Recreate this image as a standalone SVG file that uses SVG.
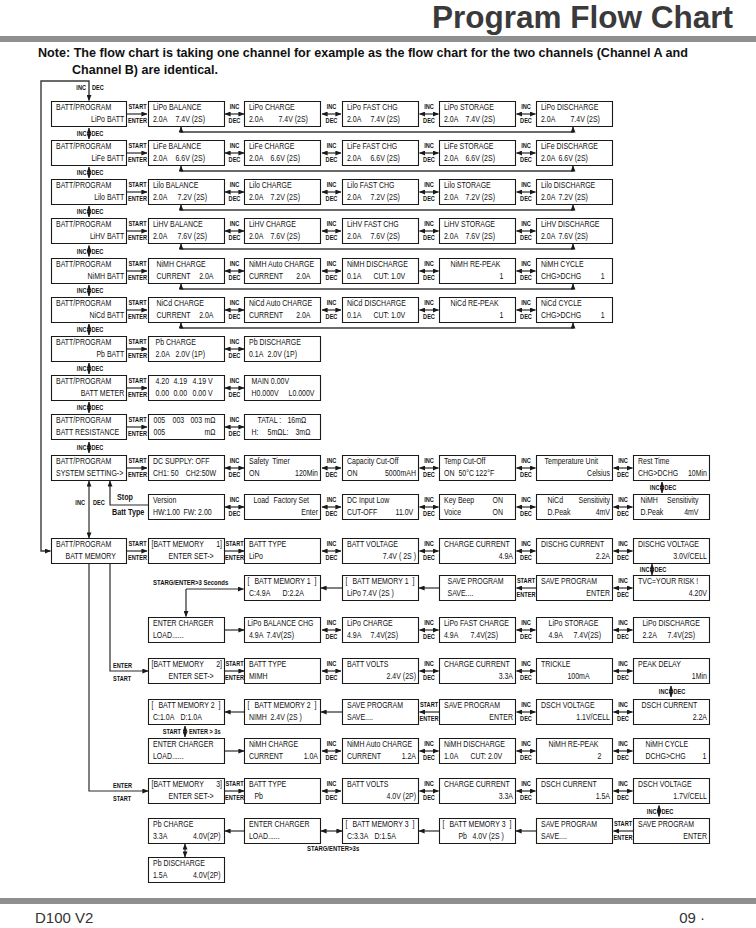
<svg xmlns="http://www.w3.org/2000/svg" width="756" height="928" viewBox="0 0 756 928">
<style>
text{font-family:"Liberation Sans",Arial,Helvetica,sans-serif;font-size:9.3px;fill:#111}
.b{fill:#fff;stroke:#1a1a1a;stroke-width:1.1;vector-effect:non-scaling-stroke}
.r{text-anchor:end}
.s,.sr,.sl{font-size:7px;font-weight:bold}
.s{text-anchor:middle}
.sr{text-anchor:end}
.st{font-size:8.5px;font-weight:bold}
.c{fill:none;stroke:#2a2a2a;stroke-width:1.2}
.l{fill:none;stroke:#3a3a3a;stroke-width:1.4}
.bar{fill:#8f8f8f}
</style>
<defs>
<marker id="ah" viewBox="0 0 6 5" refX="5.6" refY="2.5" markerWidth="6" markerHeight="5" markerUnits="userSpaceOnUse" orient="auto-start-reverse"><path d="M0,0L6,2.5L0,5z" fill="#1a1a1a"/></marker>
<g id="id"><path class="c" d="M-9.5,0H9.5" marker-start="url(#ah)" marker-end="url(#ah)"/><text class="s" transform="translate(0 -5) scale(.8 1)">INC</text><text class="s" transform="translate(0 9) scale(.8 1)">DEC</text></g>
<g id="se"><path class="c" d="M-10.5,0H9.5" marker-end="url(#ah)"/><text class="s" transform="translate(0 -5) scale(.8 1)">START</text><text class="s" transform="translate(0 9) scale(.8 1)">ENTER</text></g>
<g id="sel"><path class="c" d="M10.5,0H-9.5" marker-end="url(#ah)"/><text class="s" transform="translate(0 -5) scale(.8 1)">START</text><text class="s" transform="translate(0 9) scale(.8 1)">ENTER</text></g>
<g id="vid"><path class="c" d="M0,-5.5V5.5" marker-start="url(#ah)" marker-end="url(#ah)"/><text class="sr" transform="translate(-2.5 2.5) scale(.8 1)">INC</text><text class="sl" transform="translate(2.5 2.5) scale(.8 1)">DEC</text></g>
</defs>
<rect width="756" height="928" fill="#fff"/>

<g id="header">
<text x="733" y="28" style="font-size:31.5px;font-weight:bold;text-anchor:end;fill:#3a3a3a">Program Flow Chart</text>
<rect class="bar" x="0" y="36" width="756" height="6"/>
<text x="38" y="57" textLength="650" lengthAdjust="spacingAndGlyphs" style="font-size:12.5px;font-weight:bold">Note: The flow chart is taking one channel for example as the flow chart for the two channels (Channel A and</text>
<text x="72" y="74" textLength="146" lengthAdjust="spacingAndGlyphs" style="font-size:12.5px;font-weight:bold">Channel B) are identical.</text>
</g>

<g id="footer">
<rect class="bar" x="0" y="898" width="756" height="6"/>
<text x="35" y="923" style="font-size:15px;fill:#333">D100 V2</text>
<text x="705" y="923" style="font-size:15px;fill:#333;text-anchor:end">09 ·</text>
</g>

<g id="connectors">
<path class="l" d="M50.5,551H41V81H89V100.5" marker-start="url(#ah)" marker-end="url(#ah)"/>
<text class="sr" transform="translate(86 90) scale(.8 1)">INC</text>
<text class="sl" transform="translate(92 90) scale(.8 1)">DEC</text>
<use href="#vid" x="89" y="133.5"/>
<use href="#vid" x="89" y="172.5"/>
<use href="#vid" x="89" y="211.5"/>
<use href="#vid" x="89" y="251"/>
<use href="#vid" x="89" y="290.5"/>
<use href="#vid" x="89" y="329.5"/>
<use href="#vid" x="89" y="368.5"/>
<use href="#vid" x="89" y="407.5"/>
<use href="#vid" x="89" y="447.5"/>
<path class="l" d="M181,127V132H573V127" marker-start="url(#ah)" marker-end="url(#ah)"/>
<path class="l" d="M181,166V171H573V166" marker-start="url(#ah)" marker-end="url(#ah)"/>
<path class="l" d="M181,205V210H573V205" marker-start="url(#ah)" marker-end="url(#ah)"/>
<path class="l" d="M181,244V249H573V244" marker-start="url(#ah)" marker-end="url(#ah)"/>
<path class="l" d="M181,284V289H573V284" marker-start="url(#ah)" marker-end="url(#ah)"/>
<path class="l" d="M181,323V328H573V323" marker-start="url(#ah)" marker-end="url(#ah)"/>
<use href="#se" x="137.5" y="114"/><use href="#id" x="234.5" y="114"/><use href="#id" x="331.5" y="114"/><use href="#id" x="429" y="114"/><use href="#id" x="526" y="114"/>
<use href="#se" x="137.5" y="153"/><use href="#id" x="234.5" y="153"/><use href="#id" x="331.5" y="153"/><use href="#id" x="429" y="153"/><use href="#id" x="526" y="153"/>
<use href="#se" x="137.5" y="192"/><use href="#id" x="234.5" y="192"/><use href="#id" x="331.5" y="192"/><use href="#id" x="429" y="192"/><use href="#id" x="526" y="192"/>
<use href="#se" x="137.5" y="231"/><use href="#id" x="234.5" y="231"/><use href="#id" x="331.5" y="231"/><use href="#id" x="429" y="231"/><use href="#id" x="526" y="231"/>
<use href="#se" x="137.5" y="271"/><use href="#id" x="234.5" y="271"/><use href="#id" x="331.5" y="271"/><use href="#id" x="429" y="271"/><use href="#id" x="526" y="271"/>
<use href="#se" x="137.5" y="310"/><use href="#id" x="234.5" y="310"/><use href="#id" x="331.5" y="310"/><use href="#id" x="429" y="310"/><use href="#id" x="526" y="310"/>
<use href="#se" x="137.5" y="349"/><use href="#id" x="234.5" y="349"/>
<use href="#se" x="137.5" y="388"/><use href="#id" x="234.5" y="388"/>
<use href="#se" x="137.5" y="427"/><use href="#id" x="234.5" y="427"/>
<use href="#se" x="137.5" y="468"/><use href="#id" x="234.5" y="468"/><use href="#id" x="331.5" y="468"/><use href="#id" x="429" y="468"/><use href="#id" x="526" y="468"/><use href="#id" x="623" y="468"/>
<use href="#vid" x="662" y="487.5"/>
<use href="#id" x="234.5" y="507"/><use href="#id" x="331.5" y="507"/><use href="#id" x="429" y="507"/><use href="#id" x="526" y="507"/><use href="#id" x="623" y="507"/>
<path class="c" d="M89,481V538" marker-start="url(#ah)" marker-end="url(#ah)"/>
<text class="sr" transform="translate(85 505) scale(.8 1)">INC</text>
<text class="sl" transform="translate(93 505) scale(.8 1)">DEC</text>
<path class="c" d="M148,505H110V481" marker-end="url(#ah)"/>
<text class="st" transform="translate(117 500) scale(.85 1)">Stop</text>
<text class="st" transform="translate(112 515) scale(.85 1)">Batt Type</text>
<use href="#se" x="137.5" y="551"/><use href="#se" x="234.5" y="551"/><use href="#id" x="331.5" y="551"/><use href="#id" x="429" y="551"/><use href="#id" x="526" y="551"/><use href="#id" x="623" y="551"/>
<use href="#vid" x="652" y="569.5"/>
<path class="c" d="M110,564V671H148" marker-end="url(#ah)"/>
<path class="c" d="M89,564V791H148" marker-end="url(#ah)"/>
<text class="sl" transform="translate(113 668) scale(.8 1)">ENTER</text>
<text class="sl" transform="translate(113 681) scale(.8 1)">START</text>
<text class="sl" transform="translate(113 788) scale(.8 1)">ENTER</text>
<text class="sl" transform="translate(113 801) scale(.8 1)">START</text>
<text class="sl" transform="translate(153 585) scale(.85 1)">STARG/ENTER&gt;3 Seconds</text>
<path class="c" d="M186,589H243.5" marker-end="url(#ah)"/>
<path class="c" d="M186,589V616.5" marker-end="url(#ah)"/>
<path class="c" d="M342,588H321" marker-end="url(#ah)"/>
<path class="c" d="M439,588H419" marker-end="url(#ah)"/>
<use href="#sel" x="526" y="588"/><use href="#id" x="623" y="588"/>
<path class="c" d="M225,630H244" marker-end="url(#ah)"/>
<use href="#id" x="331.5" y="630"/><use href="#id" x="429" y="630"/><use href="#id" x="526" y="630"/><use href="#id" x="623" y="630"/>
<use href="#se" x="234.5" y="671"/><use href="#id" x="331.5" y="671"/><use href="#id" x="429" y="671"/><use href="#id" x="526" y="671"/><use href="#id" x="623" y="671"/>
<use href="#vid" x="671" y="691.5"/>
<path class="c" d="M244,712H225" marker-end="url(#ah)"/>
<path class="c" d="M342,712H321" marker-end="url(#ah)"/>
<use href="#sel" x="429" y="712"/><use href="#id" x="526" y="712"/><use href="#id" x="623" y="712"/>
<path class="c" d="M185,726V737" marker-start="url(#ah)" marker-end="url(#ah)"/>
<text class="sr" transform="translate(181 734) scale(.8 1)">START</text>
<text class="sl" transform="translate(189 734) scale(.8 1)">ENTER &gt; 3s</text>
<path class="c" d="M225,751H244" marker-end="url(#ah)"/>
<use href="#id" x="331.5" y="751"/><use href="#id" x="429" y="751"/><use href="#id" x="526" y="751"/><use href="#id" x="623" y="751"/>
<use href="#se" x="234.5" y="791"/><use href="#id" x="331.5" y="791"/><use href="#id" x="429" y="791"/><use href="#id" x="526" y="791"/><use href="#id" x="623" y="791"/>
<use href="#vid" x="659" y="811"/>
<path class="c" d="M244,831H225" marker-end="url(#ah)"/>
<path class="c" d="M321,831H342" marker-start="url(#ah)" marker-end="url(#ah)"/>
<path class="c" d="M439,831H419" marker-end="url(#ah)"/>
<path class="c" d="M536,831H516" marker-end="url(#ah)"/>
<use href="#sel" x="623" y="831"/>
<text class="sl" transform="translate(307 851) scale(.85 1)">STARG/ENTER&gt;3s</text>
<path class="c" d="M185,844V857" marker-start="url(#ah)" marker-end="url(#ah)"/>
</g>

<g id="nodes">
<g id="r1c0" transform="translate(51.5 101.5) scale(.75 1)"><rect class="b" width="100" height="25"/><text x="6" y="9">BATT/PROGRAM</text><text class="r" x="97" y="20.5">LiPo BATT</text></g>
<g id="r1c1" transform="translate(148.5 101.5) scale(.75 1)"><rect class="b" width="101.33" height="25"/><text x="6" y="9">LiPo BALANCE</text><text x="6" y="20.5">2.0A</text><text x="36" y="20.5">7.4V (2S)</text></g>
<g id="r1c2" transform="translate(244.5 101.5) scale(.75 1)"><rect class="b" width="101.33" height="25"/><text x="6" y="9">LiPo CHARGE</text><text x="6" y="20.5">2.0A</text><text x="45.3" y="20.5">7.4V (2S)</text></g>
<g id="r1c3" transform="translate(342.5 101.5) scale(.75 1)"><rect class="b" width="101.33" height="25"/><text x="6" y="9">LiPo FAST CHG</text><text x="6" y="20.5">2.0A</text><text x="37.3" y="20.5">7.4V (2S)</text></g>
<g id="r1c4" transform="translate(439.5 101.5) scale(.75 1)"><rect class="b" width="101.33" height="25"/><text x="6" y="9">LiPo STORAGE</text><text x="6" y="20.5">2.0A</text><text x="34.7" y="20.5">7.4V (2S)</text></g>
<g id="r1c5" transform="translate(536.5 101.5) scale(.75 1)"><rect class="b" width="101.33" height="25"/><text x="6" y="9">LiPo DISCHARGE</text><text x="6" y="20.5">2.0A</text><text x="45.3" y="20.5">7.4V (2S)</text></g>
<g id="r2c0" transform="translate(51.5 140.5) scale(.75 1)"><rect class="b" width="100" height="25"/><text x="6" y="9">BATT/PROGRAM</text><text class="r" x="97" y="20.5">LiFe BATT</text></g>
<g id="r2c1" transform="translate(148.5 140.5) scale(.75 1)"><rect class="b" width="101.33" height="25"/><text x="6" y="9">LiFe BALANCE</text><text x="6" y="20.5">2.0A</text><text x="36" y="20.5">6.6V (2S)</text></g>
<g id="r2c2" transform="translate(244.5 140.5) scale(.75 1)"><rect class="b" width="101.33" height="25"/><text x="6" y="9">LiFe CHARGE</text><text x="6" y="20.5">2.0A</text><text x="34.7" y="20.5">6.6V (2S)</text></g>
<g id="r2c3" transform="translate(342.5 140.5) scale(.75 1)"><rect class="b" width="101.33" height="25"/><text x="6" y="9">LiFe FAST CHG</text><text x="6" y="20.5">2.0A</text><text x="37.3" y="20.5">6.6V (2S)</text></g>
<g id="r2c4" transform="translate(439.5 140.5) scale(.75 1)"><rect class="b" width="101.33" height="25"/><text x="6" y="9">LiFe STORAGE</text><text x="6" y="20.5">2.0A</text><text x="34.7" y="20.5">6.6V (2S)</text></g>
<g id="r2c5" transform="translate(536.5 140.5) scale(.75 1)"><rect class="b" width="101.33" height="25"/><text x="6" y="9">LiFe DISCHARGE</text><text x="6" y="20.5">2.0A</text><text x="29.3" y="20.5">6.6V (2S)</text></g>
<g id="r3c0" transform="translate(51.5 179.5) scale(.75 1)"><rect class="b" width="100" height="25"/><text x="6" y="9">BATT/PROGRAM</text><text class="r" x="97" y="20.5">Lilo BATT</text></g>
<g id="r3c1" transform="translate(148.5 179.5) scale(.75 1)"><rect class="b" width="101.33" height="25"/><text x="6" y="9">Lilo BALANCE</text><text x="6" y="20.5">2.0A</text><text x="38.7" y="20.5">7.2V (2S)</text></g>
<g id="r3c2" transform="translate(244.5 179.5) scale(.75 1)"><rect class="b" width="101.33" height="25"/><text x="6" y="9">Lilo CHARGE</text><text x="6" y="20.5">2.0A</text><text x="34.7" y="20.5">7.2V (2S)</text></g>
<g id="r3c3" transform="translate(342.5 179.5) scale(.75 1)"><rect class="b" width="101.33" height="25"/><text x="6" y="9">Lilo FAST CHG</text><text x="6" y="20.5">2.0A</text><text x="37.3" y="20.5">7.2V (2S)</text></g>
<g id="r3c4" transform="translate(439.5 179.5) scale(.75 1)"><rect class="b" width="101.33" height="25"/><text x="6" y="9">Lilo STORAGE</text><text x="6" y="20.5">2.0A</text><text x="34.7" y="20.5">7.2V (2S)</text></g>
<g id="r3c5" transform="translate(536.5 179.5) scale(.75 1)"><rect class="b" width="101.33" height="25"/><text x="6" y="9">Lilo DISCHARGE</text><text x="6" y="20.5">2.0A</text><text x="29.3" y="20.5">7.2V (2S)</text></g>
<g id="r4c0" transform="translate(51.5 218.5) scale(.75 1)"><rect class="b" width="100" height="25"/><text x="6" y="9">BATT/PROGRAM</text><text class="r" x="97" y="20.5">LiHV BATT</text></g>
<g id="r4c1" transform="translate(148.5 218.5) scale(.75 1)"><rect class="b" width="101.33" height="25"/><text x="6" y="9">LiHV BALANCE</text><text x="6" y="20.5">2.0A</text><text x="38.7" y="20.5">7.6V (2S)</text></g>
<g id="r4c2" transform="translate(244.5 218.5) scale(.75 1)"><rect class="b" width="101.33" height="25"/><text x="6" y="9">LiHV CHARGE</text><text x="6" y="20.5">2.0A</text><text x="34.7" y="20.5">7.6V (2S)</text></g>
<g id="r4c3" transform="translate(342.5 218.5) scale(.75 1)"><rect class="b" width="101.33" height="25"/><text x="6" y="9">LiHV FAST CHG</text><text x="6" y="20.5">2.0A</text><text x="37.3" y="20.5">7.6V (2S)</text></g>
<g id="r4c4" transform="translate(439.5 218.5) scale(.75 1)"><rect class="b" width="101.33" height="25"/><text x="6" y="9">LiHV STORAGE</text><text x="6" y="20.5">2.0A</text><text x="34.7" y="20.5">7.6V (2S)</text></g>
<g id="r4c5" transform="translate(536.5 218.5) scale(.75 1)"><rect class="b" width="101.33" height="25"/><text x="6" y="9">LiHV DISCHARGE</text><text x="6" y="20.5">2.0A</text><text x="29.3" y="20.5">7.6V (2S)</text></g>
<g id="r5c0" transform="translate(51.5 258.5) scale(.75 1)"><rect class="b" width="100" height="25"/><text x="6" y="9">BATT/PROGRAM</text><text class="r" x="97" y="20.5">NiMH BATT</text></g>
<g id="r5c1" transform="translate(148.5 258.5) scale(.75 1)"><rect class="b" width="101.33" height="25"/><text x="10.7" y="9">NiMH CHARGE</text><text x="10.7" y="20.5">CURRENT</text><text class="r" x="86.7" y="20.5">2.0A</text></g>
<g id="r5c2" transform="translate(244.5 258.5) scale(.75 1)"><rect class="b" width="101.33" height="25"/><text x="6" y="9">NiMH Auto CHARGE</text><text x="6" y="20.5">CURRENT</text><text class="r" x="88" y="20.5">2.0A</text></g>
<g id="r5c3" transform="translate(342.5 258.5) scale(.75 1)"><rect class="b" width="101.33" height="25"/><text x="6" y="9">NiMH DISCHARGE</text><text x="6" y="20.5">0.1A</text><text x="41.3" y="20.5">CUT: 1.0V</text></g>
<g id="r5c4" transform="translate(439.5 258.5) scale(.75 1)"><rect class="b" width="101.33" height="25"/><text x="14.7" y="9">NiMH RE-PEAK</text><text class="r" x="85.3" y="20.5">1</text></g>
<g id="r5c5" transform="translate(536.5 258.5) scale(.75 1)"><rect class="b" width="101.33" height="25"/><text x="6" y="9">NiMH CYCLE</text><text x="6" y="20.5">CHG&gt;DCHG</text><text class="r" x="90.7" y="20.5">1</text></g>
<g id="r6c0" transform="translate(51.5 297.5) scale(.75 1)"><rect class="b" width="100" height="25"/><text x="6" y="9">BATT/PROGRAM</text><text class="r" x="97" y="20.5">NiCd BATT</text></g>
<g id="r6c1" transform="translate(148.5 297.5) scale(.75 1)"><rect class="b" width="101.33" height="25"/><text x="10.7" y="9">NiCd CHARGE</text><text x="10.7" y="20.5">CURRENT</text><text class="r" x="86.7" y="20.5">2.0A</text></g>
<g id="r6c2" transform="translate(244.5 297.5) scale(.75 1)"><rect class="b" width="101.33" height="25"/><text x="6" y="9">NiCd Auto CHARGE</text><text x="6" y="20.5">CURRENT</text><text class="r" x="88" y="20.5">2.0A</text></g>
<g id="r6c3" transform="translate(342.5 297.5) scale(.75 1)"><rect class="b" width="101.33" height="25"/><text x="6" y="9">NiCd DISCHARGE</text><text x="6" y="20.5">0.1A</text><text x="41.3" y="20.5">CUT: 1.0V</text></g>
<g id="r6c4" transform="translate(439.5 297.5) scale(.75 1)"><rect class="b" width="101.33" height="25"/><text x="14.7" y="9">NiCd RE-PEAK</text><text class="r" x="85.3" y="20.5">1</text></g>
<g id="r6c5" transform="translate(536.5 297.5) scale(.75 1)"><rect class="b" width="101.33" height="25"/><text x="6" y="9">NiCd CYCLE</text><text x="6" y="20.5">CHG&gt;DCHG</text><text class="r" x="90.7" y="20.5">1</text></g>
<g id="r7c0" transform="translate(51.5 336.5) scale(.75 1)"><rect class="b" width="100" height="25"/><text x="6" y="9">BATT/PROGRAM</text><text class="r" x="97" y="20.5">Pb BATT</text></g>
<g id="r7c1" transform="translate(148.5 336.5) scale(.75 1)"><rect class="b" width="101.33" height="25"/><text x="9.3" y="9">Pb CHARGE</text><text x="9.3" y="20.5">2.0A</text><text x="36" y="20.5">2.0V (1P)</text></g>
<g id="r7c2" transform="translate(244.5 336.5) scale(.75 1)"><rect class="b" width="101.33" height="25"/><text x="6" y="9">Pb DISCHARGE</text><text x="6" y="20.5">0.1A</text><text x="30.7" y="20.5">2.0V (1P)</text></g>
<g id="r8c0" transform="translate(51.5 375.5) scale(.75 1)"><rect class="b" width="100" height="25"/><text x="6" y="9">BATT/PROGRAM</text><text class="r" x="97" y="20.5">BATT METER</text></g>
<g id="r8c1" transform="translate(148.5 375.5) scale(.75 1)"><rect class="b" width="101.33" height="25"/><text x="9.3" y="9">4.20</text><text x="33.3" y="9">4.19</text><text x="58.7" y="9">4.19 V</text><text x="9.3" y="20.5">0.00</text><text x="33.3" y="20.5">0.00</text><text x="58.7" y="20.5">0.00 V</text></g>
<g id="r8c2" transform="translate(244.5 375.5) scale(.75 1)"><rect class="b" width="101.33" height="25"/><text x="9.3" y="9">MAIN 0.00V</text><text x="9.3" y="20.5">H0.000V</text><text x="58.7" y="20.5">L0.000V</text></g>
<g id="r9c0" transform="translate(51.5 414.5) scale(.75 1)"><rect class="b" width="100" height="25"/><text x="6" y="9">BATT/PROGRAM</text><text x="6" y="20.5">BATT RESISTANCE</text></g>
<g id="r9c1" transform="translate(148.5 414.5) scale(.75 1)"><rect class="b" width="101.33" height="25"/><text x="6.7" y="9">005</text><text x="32" y="9">003</text><text x="56" y="9">003</text><text class="r" x="89.3" y="9">mΩ</text><text x="6.7" y="20.5">005</text><text class="r" x="89.3" y="20.5">mΩ</text></g>
<g id="r9c2" transform="translate(244.5 414.5) scale(.75 1)"><rect class="b" width="101.33" height="25"/><text x="17.3" y="9">TATAL :</text><text x="57.3" y="9">16mΩ</text><text x="9.3" y="20.5">H:</text><text x="30.7" y="20.5">5mΩ</text><text x="50.7" y="20.5">L:</text><text x="68" y="20.5">3mΩ</text></g>
<g id="r10c0" transform="translate(51.5 455.5) scale(.75 1)"><rect class="b" width="100" height="25"/><text x="6" y="9">BATT/PROGRAM</text><text x="6" y="20.5">SYSTEM SETTING-&gt;</text></g>
<g id="r10c1" transform="translate(148.5 455.5) scale(.75 1)"><rect class="b" width="101.33" height="25"/><text x="6" y="9">DC SUPPLY: OFF</text><text x="6" y="20.5">CH1: 50</text><text class="r" x="90" y="20.5">CH2:50W</text></g>
<g id="r10c2" transform="translate(244.5 455.5) scale(.75 1)"><rect class="b" width="101.33" height="25"/><text x="6" y="9">Safety</text><text x="37" y="9">Timer</text><text x="6" y="20.5">ON</text><text class="r" x="98" y="20.5">120Min</text></g>
<g id="r10c3" transform="translate(342.5 455.5) scale(.75 1)"><rect class="b" width="101.33" height="25"/><text x="6" y="9">Capacity Cut-Off</text><text x="6" y="20.5">ON</text><text class="r" x="98" y="20.5">5000mAH</text></g>
<g id="r10c4" transform="translate(439.5 455.5) scale(.75 1)"><rect class="b" width="101.33" height="25"/><text x="6" y="9">Temp Cut-Off</text><text x="6" y="20.5">ON</text><text x="25.3" y="20.5">50°C</text><text x="48" y="20.5">122°F</text></g>
<g id="r10c5" transform="translate(536.5 455.5) scale(.75 1)"><rect class="b" width="101.33" height="25"/><text x="10.7" y="9">Temperature Unit</text><text class="r" x="98" y="20.5">Celsius</text></g>
<g id="r10c6" transform="translate(633.5 455.5) scale(.75 1)"><rect class="b" width="101.33" height="25"/><text x="6" y="9">Rest Time</text><text x="6" y="20.5">CHG&gt;DCHG</text><text class="r" x="98" y="20.5">10Min</text></g>
<g id="r11c1" transform="translate(148.5 494.5) scale(.75 1)"><rect class="b" width="101.33" height="25"/><text x="6" y="9">Version</text><text x="6" y="20.5">HW:1.00</text><text x="46.7" y="20.5">FW: 2.00</text></g>
<g id="r11c2" transform="translate(244.5 494.5) scale(.75 1)"><rect class="b" width="101.33" height="25"/><text x="12" y="9">Load</text><text x="38.7" y="9">Factory</text><text x="72" y="9">Set</text><text class="r" x="98" y="20.5">Enter</text></g>
<g id="r11c3" transform="translate(342.5 494.5) scale(.75 1)"><rect class="b" width="101.33" height="25"/><text x="6" y="9">DC Input Low</text><text x="6" y="20.5">CUT-OFF</text><text x="70.7" y="20.5">11.0V</text></g>
<g id="r11c4" transform="translate(439.5 494.5) scale(.75 1)"><rect class="b" width="101.33" height="25"/><text x="6" y="9">Key Beep</text><text x="70.7" y="9">ON</text><text x="6" y="20.5">Voice</text><text x="70.7" y="20.5">ON</text></g>
<g id="r11c5" transform="translate(536.5 494.5) scale(.75 1)"><rect class="b" width="101.33" height="25"/><text x="14.7" y="9">NiCd</text><text class="r" x="98" y="9">Sensitivity</text><text x="14.7" y="20.5">D.Peak</text><text class="r" x="98" y="20.5">4mV</text></g>
<g id="r11c6" transform="translate(633.5 494.5) scale(.75 1)"><rect class="b" width="101.33" height="25"/><text x="9.3" y="9">NiMH</text><text class="r" x="86.7" y="9">Sensitivity</text><text x="9.3" y="20.5">D.Peak</text><text class="r" x="86.7" y="20.5">4mV</text></g>
<g id="r12c0" transform="translate(51.5 538.5) scale(.75 1)"><rect class="b" width="100" height="25"/><text x="6" y="9">BATT/PROGRAM</text><text x="18.7" y="20.5">BATT MEMORY</text></g>
<g id="r12c1" transform="translate(148.5 538.5) scale(.75 1)"><rect class="b" width="101.33" height="25"/><text x="4" y="9">[BATT MEMORY</text><text class="r" x="98" y="9">1]</text><text x="26.7" y="20.5">ENTER SET-&gt;</text></g>
<g id="r12c2" transform="translate(244.5 538.5) scale(.75 1)"><rect class="b" width="101.33" height="25"/><text x="6" y="9">BATT TYPE</text><text x="6" y="20.5">LiPo</text></g>
<g id="r12c3" transform="translate(342.5 538.5) scale(.75 1)"><rect class="b" width="101.33" height="25"/><text x="6" y="9">BATT VOLTAGE</text><text class="r" x="98" y="20.5">7.4V ( 2S )</text></g>
<g id="r12c4" transform="translate(439.5 538.5) scale(.75 1)"><rect class="b" width="101.33" height="25"/><text x="6" y="9">CHARGE CURRENT</text><text class="r" x="98" y="20.5">4.9A</text></g>
<g id="r12c5" transform="translate(536.5 538.5) scale(.75 1)"><rect class="b" width="101.33" height="25"/><text x="6" y="9">DISCHG CURRENT</text><text class="r" x="98" y="20.5">2.2A</text></g>
<g id="r12c6" transform="translate(633.5 538.5) scale(.75 1)"><rect class="b" width="101.33" height="25"/><text x="6" y="9">DISCHG VOLTAGE</text><text class="r" x="98" y="20.5">3.0V/CELL</text></g>
<g id="m1c2" transform="translate(244.5 575.5) scale(.75 1)"><rect class="b" width="101.33" height="25"/><text x="4" y="9">[</text><text x="13.3" y="9">BATT MEMORY 1</text><text class="r" x="96" y="9">]</text><text x="6" y="20.5">C:4.9A</text><text x="50.7" y="20.5">D:2.2A</text></g>
<g id="m1c3" transform="translate(342.5 575.5) scale(.75 1)"><rect class="b" width="101.33" height="25"/><text x="4" y="9">[</text><text x="13.3" y="9">BATT MEMORY 1</text><text class="r" x="96" y="9">]</text><text x="6" y="20.5">LiPo</text><text x="26.7" y="20.5">7.4V (2S )</text></g>
<g id="m1c4" transform="translate(439.5 575.5) scale(.75 1)"><rect class="b" width="101.33" height="25"/><text x="10.7" y="9">SAVE PROGRAM</text><text x="10.7" y="20.5">SAVE....</text></g>
<g id="m1c5" transform="translate(536.5 575.5) scale(.75 1)"><rect class="b" width="101.33" height="25"/><text x="6" y="9">SAVE PROGRAM</text><text class="r" x="98" y="20.5">ENTER</text></g>
<g id="m1c6" transform="translate(633.5 575.5) scale(.75 1)"><rect class="b" width="101.33" height="25"/><text x="6" y="9">TVC=YOUR RISK !</text><text class="r" x="98" y="20.5">4.20V</text></g>
<g id="m2c1" transform="translate(148.5 617.5) scale(.75 1)"><rect class="b" width="101.33" height="25"/><text x="6" y="9">ENTER CHARGER</text><text x="6" y="20.5">LOAD......</text></g>
<g id="m2c2" transform="translate(244.5 617.5) scale(.75 1)"><rect class="b" width="101.33" height="25"/><text x="4" y="9">LiPo BALANCE CHG</text><text x="6" y="20.5">4.9A</text><text x="29.3" y="20.5">7.4V(2S)</text></g>
<g id="m2c3" transform="translate(342.5 617.5) scale(.75 1)"><rect class="b" width="101.33" height="25"/><text x="6" y="9">LiPo CHARGE</text><text x="6" y="20.5">4.9A</text><text x="37.3" y="20.5">7.4V(2S)</text></g>
<g id="m2c4" transform="translate(439.5 617.5) scale(.75 1)"><rect class="b" width="101.33" height="25"/><text x="6" y="9">LiPo FAST CHARGE</text><text x="6" y="20.5">4.9A</text><text x="41.3" y="20.5">7.4V(2S)</text></g>
<g id="m2c5" transform="translate(536.5 617.5) scale(.75 1)"><rect class="b" width="101.33" height="25"/><text x="16" y="9">LiPo STORAGE</text><text x="16" y="20.5">4.9A</text><text x="49.3" y="20.5">7.4V(2S)</text></g>
<g id="m2c6" transform="translate(633.5 617.5) scale(.75 1)"><rect class="b" width="101.33" height="25"/><text x="12" y="9">LiPo DISCHARGE</text><text x="12" y="20.5">2.2A</text><text x="45.3" y="20.5">7.4V(2S)</text></g>
<g id="m3c1" transform="translate(148.5 658.5) scale(.75 1)"><rect class="b" width="101.33" height="25"/><text x="4" y="9">[BATT MEMORY</text><text class="r" x="98" y="9">2]</text><text x="26.7" y="20.5">ENTER SET-&gt;</text></g>
<g id="m3c2" transform="translate(244.5 658.5) scale(.75 1)"><rect class="b" width="101.33" height="25"/><text x="6" y="9">BATT TYPE</text><text x="6" y="20.5">MIMH</text></g>
<g id="m3c3" transform="translate(342.5 658.5) scale(.75 1)"><rect class="b" width="101.33" height="25"/><text x="6" y="9">BATT VOLTS</text><text class="r" x="98" y="20.5">2.4V (2S)</text></g>
<g id="m3c4" transform="translate(439.5 658.5) scale(.75 1)"><rect class="b" width="101.33" height="25"/><text x="6" y="9">CHARGE CURRENT</text><text class="r" x="98" y="20.5">3.3A</text></g>
<g id="m3c5" transform="translate(536.5 658.5) scale(.75 1)"><rect class="b" width="101.33" height="25"/><text x="6" y="9">TRICKLE</text><text x="41.3" y="20.5">100mA</text></g>
<g id="m3c6" transform="translate(633.5 658.5) scale(.75 1)"><rect class="b" width="101.33" height="25"/><text x="6" y="9">PEAK DELAY</text><text class="r" x="98" y="20.5">1Min</text></g>
<g id="m4c1" transform="translate(148.5 699.5) scale(.75 1)"><rect class="b" width="101.33" height="25"/><text x="4" y="9">[</text><text x="13.3" y="9">BATT MEMORY 2</text><text class="r" x="96" y="9">]</text><text x="6" y="20.5">C:1.0A</text><text x="42.7" y="20.5">D:1.0A</text></g>
<g id="m4c2" transform="translate(244.5 699.5) scale(.75 1)"><rect class="b" width="101.33" height="25"/><text x="4" y="9">[</text><text x="13.3" y="9">BATT MEMORY 2</text><text class="r" x="96" y="9">]</text><text x="6" y="20.5">NIMH</text><text x="34.7" y="20.5">2.4V (2S )</text></g>
<g id="m4c3" transform="translate(342.5 699.5) scale(.75 1)"><rect class="b" width="101.33" height="25"/><text x="6" y="9">SAVE PROGRAM</text><text x="6" y="20.5">SAVE....</text></g>
<g id="m4c4" transform="translate(439.5 699.5) scale(.75 1)"><rect class="b" width="101.33" height="25"/><text x="6" y="9">SAVE PROGRAM</text><text class="r" x="98" y="20.5">ENTER</text></g>
<g id="m4c5" transform="translate(536.5 699.5) scale(.75 1)"><rect class="b" width="101.33" height="25"/><text x="6" y="9">DSCH VOLTAGE</text><text class="r" x="98" y="20.5">1.1V/CELL</text></g>
<g id="m4c6" transform="translate(633.5 699.5) scale(.75 1)"><rect class="b" width="101.33" height="25"/><text x="10.7" y="9">DSCH CURRENT</text><text class="r" x="98" y="20.5">2.2A</text></g>
<g id="m5c1" transform="translate(148.5 738.5) scale(.75 1)"><rect class="b" width="101.33" height="25"/><text x="6" y="9">ENTER CHARGER</text><text x="6" y="20.5">LOAD......</text></g>
<g id="m5c2" transform="translate(244.5 738.5) scale(.75 1)"><rect class="b" width="101.33" height="25"/><text x="6" y="9">NiMH CHARGE</text><text x="6" y="20.5">CURRENT</text><text class="r" x="98" y="20.5">1.0A</text></g>
<g id="m5c3" transform="translate(342.5 738.5) scale(.75 1)"><rect class="b" width="101.33" height="25"/><text x="6" y="9">NiMH Auto CHARGE</text><text x="6" y="20.5">CURRENT</text><text class="r" x="98" y="20.5">1.2A</text></g>
<g id="m5c4" transform="translate(439.5 738.5) scale(.75 1)"><rect class="b" width="101.33" height="25"/><text x="6" y="9">NiMH DISCHARGE</text><text x="6" y="20.5">1.0A</text><text x="41.3" y="20.5">CUT: 2.0V</text></g>
<g id="m5c5" transform="translate(536.5 738.5) scale(.75 1)"><rect class="b" width="101.33" height="25"/><text x="16" y="9">NiMH RE-PEAK</text><text x="81.3" y="20.5">2</text></g>
<g id="m5c6" transform="translate(633.5 738.5) scale(.75 1)"><rect class="b" width="101.33" height="25"/><text x="16" y="9">NiMH CYCLE</text><text x="16" y="20.5">DCHG&gt;CHG</text><text x="92" y="20.5">1</text></g>
<g id="m6c1" transform="translate(148.5 778.5) scale(.75 1)"><rect class="b" width="101.33" height="25"/><text x="4" y="9">[BATT MEMORY</text><text class="r" x="98" y="9">3]</text><text x="26.7" y="20.5">ENTER SET-&gt;</text></g>
<g id="m6c2" transform="translate(244.5 778.5) scale(.75 1)"><rect class="b" width="101.33" height="25"/><text x="6" y="9">BATT TYPE</text><text x="13.3" y="20.5">Pb</text></g>
<g id="m6c3" transform="translate(342.5 778.5) scale(.75 1)"><rect class="b" width="101.33" height="25"/><text x="6" y="9">BATT VOLTS</text><text class="r" x="98" y="20.5">4.0V (2P)</text></g>
<g id="m6c4" transform="translate(439.5 778.5) scale(.75 1)"><rect class="b" width="101.33" height="25"/><text x="6" y="9">CHARGE CURRENT</text><text class="r" x="98" y="20.5">3.3A</text></g>
<g id="m6c5" transform="translate(536.5 778.5) scale(.75 1)"><rect class="b" width="101.33" height="25"/><text x="6" y="9">DSCH CURRENT</text><text class="r" x="98" y="20.5">1.5A</text></g>
<g id="m6c6" transform="translate(633.5 778.5) scale(.75 1)"><rect class="b" width="101.33" height="25"/><text x="6" y="9">DSCH VOLTAGE</text><text class="r" x="98" y="20.5">1.7V/CELL</text></g>
<g id="m7c1" transform="translate(148.5 818.5) scale(.75 1)"><rect class="b" width="101.33" height="25"/><text x="6" y="9">Pb CHARGE</text><text x="6" y="20.5">3.3A</text><text class="r" x="96" y="20.5">4.0V(2P)</text></g>
<g id="m7c2" transform="translate(244.5 818.5) scale(.75 1)"><rect class="b" width="101.33" height="25"/><text x="6" y="9">ENTER CHARGER</text><text x="6" y="20.5">LOAD......</text></g>
<g id="m7c3" transform="translate(342.5 818.5) scale(.75 1)"><rect class="b" width="101.33" height="25"/><text x="4" y="9">[</text><text x="13.3" y="9">BATT MEMORY 3</text><text class="r" x="96" y="9">]</text><text x="6" y="20.5">C:3.3A</text><text x="42.7" y="20.5">D:1.5A</text></g>
<g id="m7c4" transform="translate(439.5 818.5) scale(.75 1)"><rect class="b" width="101.33" height="25"/><text x="4" y="9">[</text><text x="13.3" y="9">BATT MEMORY 3</text><text class="r" x="96" y="9">]</text><text x="25.3" y="20.5">Pb</text><text x="44" y="20.5">4.0V (2S )</text></g>
<g id="m7c5" transform="translate(536.5 818.5) scale(.75 1)"><rect class="b" width="101.33" height="25"/><text x="6" y="9">SAVE PROGRAM</text><text x="6" y="20.5">SAVE....</text></g>
<g id="m7c6" transform="translate(633.5 818.5) scale(.75 1)"><rect class="b" width="101.33" height="25"/><text x="6" y="9">SAVE PROGRAM</text><text class="r" x="98" y="20.5">ENTER</text></g>
<g id="m8c1" transform="translate(148.5 857.5) scale(.75 1)"><rect class="b" width="101.33" height="25"/><text x="6" y="9">Pb DISCHARGE</text><text x="6" y="20.5">1.5A</text><text class="r" x="96" y="20.5">4.0V(2P)</text></g>
</g>
</svg>
